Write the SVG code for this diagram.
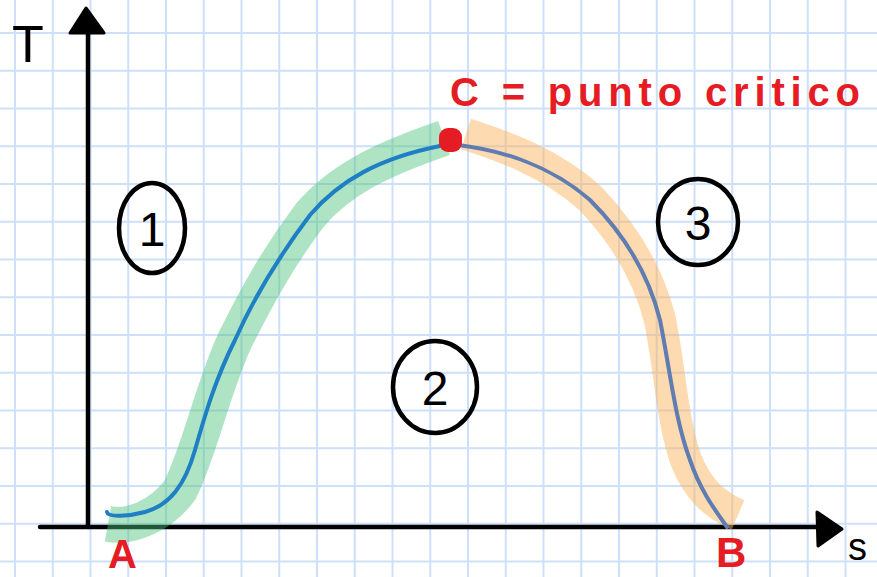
<svg xmlns="http://www.w3.org/2000/svg" width="877" height="577" viewBox="0 0 877 577">
<style>
.axis{stroke:#000;stroke-width:4.5;fill:none;stroke-linecap:round}
.ring{stroke:#000;stroke-width:4.5;fill:none}
.num{font-family:"Liberation Sans",Arial,sans-serif;font-size:48px;fill:#000}
.red{font-family:"Liberation Sans",Arial,sans-serif;fill:#e51c23;font-weight:bold}
.lbl{font-family:"Liberation Sans",Arial,sans-serif;fill:#000}
</style>
<defs>
<pattern id="grid" patternUnits="userSpaceOnUse" x="15" y="33" width="37.75" height="37.75">
<path d="M0 0H37.75M0 0V37.75M0 37.75H37.75M37.75 0V37.75" stroke="#cddff9" stroke-width="2" fill="none"/>
</pattern>
</defs>
<rect width="877" height="577" fill="#fff"/>
<rect width="877" height="577" fill="url(#grid)"/>
<g id="axes">
<path class="axis" d="M88 527V22"/>
<path d="M86 8L104 33L70 33Z" fill="#000" stroke="#000" stroke-width="3" stroke-linejoin="round"/>
<path class="axis" d="M40 527H828"/>
<path d="M842 529L817 512L818 546Z" fill="#000" stroke="#000" stroke-width="3" stroke-linejoin="round"/>
<text class="lbl" x="12" y="62" font-size="52">T</text>
<text class="lbl" x="848" y="560" font-size="38">s</text>
</g>
<g id="connectors">
<path d="M108 524C130 528 160 517 180 490C200 450 212 390 235 340C260 290 280 255 310 215C340 180 380 160 444 138" stroke="#4cc47a" stroke-opacity="0.45" stroke-width="36" fill="none"/>
<path d="M466 134C500 145 550 162 590 198C630 240 650 280 660 320C670 370 672 420 686 460C698 490 715 505 738 515" stroke="#fbb560" stroke-opacity="0.5" stroke-width="32" fill="none"/>
<path d="M107 512C108 518 130 516 145 512C170 505 185 485 195 450C205 415 215 380 235 340C255 295 280 255 310 215C340 180 380 158 440 146" stroke="#1e7fc4" stroke-width="4" fill="none" stroke-linecap="round"/>
<path d="M458 145C500 150 550 165 590 200C630 240 650 280 660 320C670 370 675 420 690 460C700 490 715 510 727 527" stroke="#5f7db2" stroke-width="4" fill="none" stroke-linecap="round"/>
</g>
<g id="pointC">
<rect x="439" y="128" width="23" height="24" rx="9" fill="#e51c23"/>
</g>
<g id="labelC">
<text class="red" x="450" y="106" font-size="40" textLength="410" lengthAdjust="spacing">C = punto  critico</text>
</g>
<g id="pointA"><text class="red" x="108" y="568" font-size="40">A</text></g>
<g id="pointB"><text class="red" x="716" y="567" font-size="42">B</text></g>
<g id="region1">
<ellipse class="ring" cx="152" cy="228" rx="33" ry="45"/>
<text class="num" x="152" y="246" text-anchor="middle">1</text>
</g>
<g id="region2">
<ellipse class="ring" cx="435" cy="387" rx="42" ry="46"/>
<text class="num" x="435" y="405" text-anchor="middle">2</text>
</g>
<g id="region3">
<ellipse class="ring" cx="698" cy="222" rx="40" ry="43"/>
<text class="num" x="698" y="240" text-anchor="middle">3</text>
</g>
</svg>
